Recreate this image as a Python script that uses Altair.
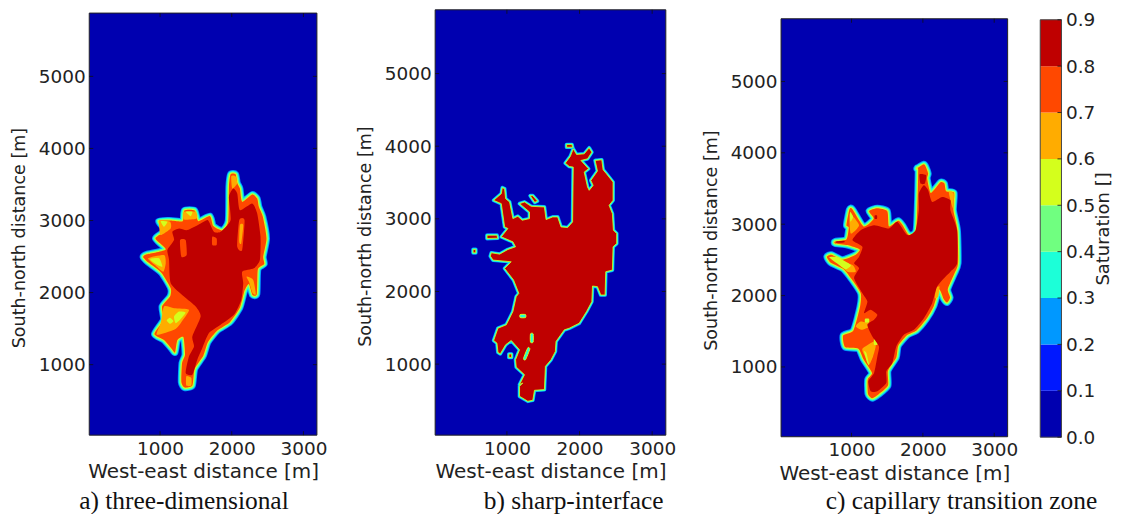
import altair as alt
import pandas as pd

# ---- saturation colour levels ----
LEVELS = [0.0, 0.1, 0.2, 0.3, 0.4, 0.5, 0.6, 0.7, 0.8, 0.9]
COLORS = ["#0000b0", "#0018ff", "#0098ff", "#1cffd8", "#70ff80", "#d4ff1c", "#ffac00", "#ff4800", "#bf0000"]
BG, B1, B2, B3, B4, B5, B6, B7, B8 = COLORS

X_TICKS = [1000, 2000, 3000]
Y_TICKS = [1000, 2000, 3000, 4000, 5000]
X_DOMAIN = [12, 3188]
Y_DOMAIN = [22, 5878]

# ---- outlines, in trace units (1 unit = about 4.6 m) ----
A_OUT = [(330,42),(345,42),(350,68),(358,85),(365,125),(395,103),(410,115),(415,140),(427,170),(438,235),(428,290),(431,312),(412,328),(409,402),(396,405),(385,372),(372,392),(358,443),(328,487),(290,512),(262,547),(248,588),(222,628),(215,678),(192,684),(182,668),(184,610),(193,585),(188,532),(170,541),(163,578),(152,566),(130,541),(101,523),(128,480),(124,440),(148,410),(150,385),(122,338),(82,307),(67,291),(78,283),(135,268),(104,235),(133,212),(114,183),(150,181),(186,183),(191,151),(222,151),(233,183),(268,168),(278,198),(305,211),(323,183),(325,80)]
A_CORE = [(338,85),(350,100),(358,150),(395,130),(410,160),(420,230),(418,300),(400,325),(365,335),(368,370),(362,420),(340,465),(300,495),(265,520),(245,565),(230,600),(215,645),(195,640),(205,590),(220,560),(215,530),(240,470),(225,440),(190,410),(150,370),(145,300),(140,270),(160,240),(155,215),(175,205),(200,210),(240,190),(262,180),(280,215),(300,215),(330,180),(325,110)]
A_HOLES = [
    [(178,240),(195,240),(198,285),(182,290)],
    [(356,180),(372,180),(365,270),(350,260)],
    [(275,230),(288,235),(288,255),(275,255)],
]
A_ORANGE = [
    [(82,295),(130,285),(135,310),(128,335),(108,320)],
    [(130,440),(160,445),(205,450),(180,490),(160,510),(108,525),(120,490)],
    [(116,180),(148,185),(150,205),(120,225),(116,205)],
    [(190,155),(225,155),(228,175),(190,178)],
    [(332,48),(345,48),(350,70),(335,85)],
    [(378,350),(398,360),(406,403),(396,400),(385,365)],
    [(197,678),(212,678),(212,655),(197,650)],
]
A_INNER = [(358,195),(368,195),(362,250),(356,245)]
A_YELLOW = [
    [(138,482),(148,474),(158,484),(148,492)],
    [(160,470),(175,455),(195,458),(178,480),(165,490)],
    [(88,297),(115,295),(125,320),(105,312)],
    [(120,183),(140,185),(130,200)],
    [(195,155),(215,155),(210,168)],
]

B_OUT = [(312,55),(322,72),(345,70),(360,52),(368,65),(355,85),(335,90),(358,115),(345,125),(355,170),(360,180),(372,165),(365,150),(385,122),(378,90),(398,88),(402,118),(412,130),(432,155),(432,210),(420,225),(430,250),(433,300),(443,310),(443,340),(432,350),(430,420),(410,425),(408,495),(395,495),(385,470),(370,468),(368,515),(352,545),(330,580),(300,595),(285,600),(260,635),(258,665),(245,690),(228,710),(225,780),(195,782),(190,812),(175,815),(150,800),(150,770),(160,760),(150,765),(165,735),(140,712),(138,690),(150,660),(125,632),(108,645),(92,672),(85,668),(82,640),(72,632),(85,595),(110,585),(130,545),(140,500),(148,490),(132,450),(105,415),(125,395),(70,390),(62,378),(65,368),(90,372),(115,358),(138,350),(130,335),(95,320),(115,295),(105,290),(95,220),(72,210),(95,190),(98,172),(105,175),(108,205),(120,215),(130,265),(145,258),(158,270),(180,265),(180,245),(150,220),(165,215),(185,228),(225,230),(230,268),(250,260),(265,260),(275,290),(295,292),(310,275),(312,110),(300,108),(288,98),(303,78)]
B_ISLANDS = [
    [(52,315),(82,315),(84,324),(52,325)],
    [(10,358),(18,358),(18,368),(10,368)],
    [(182,196),(190,196),(204,212),(196,216)],
    [(292,42),(308,42),(310,50),(292,50)],
    [(118,673),(126,673),(126,683),(118,683)],
]
B_HOLES = [
    [(152,554),(168,554),(168,563),(152,563)],
    [(183,612),(191,612),(191,637),(183,637)],
    [(175,654),(181,658),(168,690),(162,686)],
]

C_OUT = [(324,55),(345,42),(352,52),(358,70),(355,85),(366,128),(395,96),(407,100),(412,123),(436,128),(434,180),(446,240),(448,340),(436,373),(417,418),(424,443),(415,458),(405,448),(391,418),(375,468),(353,507),(323,542),(295,556),(268,588),(262,623),(237,663),(237,708),(208,735),(190,746),(177,733),(176,690),(189,670),(163,628),(148,597),(108,592),(102,557),(133,542),(153,470),(155,430),(128,388),(103,357),(65,338),(53,320),(67,314),(100,329),(140,314),(152,298),(115,285),(78,280),(78,274),(112,268),(119,232),(112,225),(121,178),(130,177),(164,229),(194,206),(180,183),(205,174),(235,183),(240,229),(268,212),(282,227),(299,254),(322,239),(328,62)]
C_CORE = [(330,130),(345,105),(358,120),(370,155),(400,140),(425,150),(425,180),(445,240),(445,340),(425,365),(410,380),(385,410),(370,460),(345,505),(315,540),(285,555),(262,590),(250,640),(232,665),(232,700),(205,725),(185,725),(178,695),(195,670),(205,620),(210,590),(190,560),(175,525),(195,510),(205,495),(185,480),(165,490),(175,455),(160,430),(135,385),(150,355),(135,340),(150,320),(160,290),(130,270),(155,240),(195,225),(240,235),(265,215),(295,255),(320,240),(330,180)]
C_CORE2 = [
    [(332,72),(352,75),(348,100),(335,100)],
    [(82,274),(105,272),(105,277),(82,278)],
    [(197,196),(204,196),(204,206),(197,206)],
]
C_ORANGE = [
    [(85,335),(130,345),(140,365),(115,365)],
    [(155,515),(190,525),(160,540),(140,530)],
    [(160,597),(195,575),(200,590),(192,620),(180,645),(168,620)],
    [(122,190),(150,225),(125,250)],
    [(420,126),(435,130),(433,175)],
    [(382,415),(392,410),(388,440),(378,445)],
]
C_YELLOW = [
    [(60,322),(85,322),(125,345),(110,358),(90,345)],
    [(168,507),(180,507),(180,518),(168,518)],
    [(165,605),(172,610),(180,645),(175,640)],
    [(195,568),(205,570),(205,585),(195,585)],
    [(123,185),(132,200),(124,215)],
]

CAPTIONS = ["a) three-dimensional", "b) sharp-interface", "c) capillary transition zone"]

FONT = dict(labelFont="DejaVu Sans", titleFont="DejaVu Sans", labelColor="#222", titleColor="#222",
            labelFontSize=18.5, titleFontWeight="normal")


def table(points, x0, y0, ux, uy):
    return pd.DataFrame({
        "x": [x0 + p[0] * ux for p in points],
        "y": [y0 - p[1] * uy for p in points],
        "i": list(range(len(points))),
    })


def panel(w, h, top, view_w, cal, rings, fills, caption, cap_x, cap_y, y_title_y):
    view_h = top + h
    sx = alt.Scale(domain=X_DOMAIN, nice=False, zero=False, range=[0, w])
    sy = alt.Scale(domain=Y_DOMAIN, nice=False, zero=False, range=[view_h, top])
    x_axis = alt.Axis(values=X_TICKS, ticks=False, domain=False, grid=False, format="d", titleFontSize=20,
                      title="West-east distance [m]", labelPadding=4, titlePadding=4, **FONT)
    y_axis = alt.Axis(values=Y_TICKS, ticks=False, domain=False, grid=False, format="d", titleFontSize=17.6,
                      title="South-north distance [m]", labelPadding=4, titlePadding=9.5, titleY=y_title_y, **FONT)

    def poly(pts, fill=None, stroke=None, sw=0, interp="cardinal-closed"):
        kw = dict(interpolate=interp, strokeJoin="round", clip=True, tension=0.4)
        if fill:
            kw["fill"] = fill
        kw["stroke"] = stroke if stroke else "transparent"
        kw["strokeWidth"] = sw
        return alt.Chart(table(pts, *cal)).mark_line(**kw).encode(
            x=alt.X("x:Q", scale=sx, axis=x_axis),
            y=alt.Y("y:Q", scale=sy, axis=y_axis),
            order="i:Q",
        )

    frame = alt.Chart(pd.DataFrame({
        "x": [X_DOMAIN[0]], "x2": [X_DOMAIN[1]], "y": [Y_DOMAIN[0]], "y2": [Y_DOMAIN[1]],
    })).mark_rect(fill=BG, stroke="#222", strokeWidth=1).encode(
        x=alt.X("x:Q", scale=sx, axis=x_axis), x2="x2:Q",
        y=alt.Y("y:Q", scale=sy, axis=y_axis), y2="y2:Q",
    )
    layers = [frame]
    for pts, stroke, sw, interp in rings:
        layers.append(poly(pts, stroke=stroke, sw=sw, interp=interp))
    for pts, fill, stroke, sw, interp in fills:
        layers.append(poly(pts, fill=fill, stroke=stroke, sw=sw, interp=interp))

    xt = alt.Chart(pd.DataFrame({"t": X_TICKS})).mark_rule(color="#111", strokeWidth=0.8)
    yt = alt.Chart(pd.DataFrame({"t": Y_TICKS})).mark_rule(color="#111", strokeWidth=0.8)
    X = alt.X("t:Q", scale=sx, axis=x_axis)
    Y = alt.Y("t:Q", scale=sy, axis=y_axis)
    layers += [
        xt.encode(x=X, y=alt.value(view_h), y2=alt.value(view_h - 4)),
        xt.encode(x=X, y=alt.value(top), y2=alt.value(top + 4)),
        yt.encode(y=Y, x=alt.value(0), x2=alt.value(4)),
        yt.encode(y=Y, x=alt.value(w - 4), x2=alt.value(w)),
        alt.Chart(pd.DataFrame({"c": [caption]})).mark_text(
            font="Liberation Serif", fontSize=25.5, color="#111", align="center", baseline="middle"
        ).encode(text="c:N", x=alt.value(cap_x), y=alt.value(cap_y)),
    ]
    return alt.layer(*layers).properties(width=view_w, height=view_h)


def soft_rings(outline):
    return [
        (outline, B2, 7, "cardinal-closed"),
        (outline, B3, 5.2, "cardinal-closed"),
        (outline, B4, 3.4, "cardinal-closed"),
        (outline, B5, 1.8, "cardinal-closed"),
    ]


def sharp(shape, fill):
    return [(shape, fill, B5, 0.8, "linear-closed")]


cal_a = (452.5, 3835, 4.64, 4.61)
cal_b = (489, 4215, 4.566, 4.572)
cal_c = (407, 4034, 4.657, 4.655)

fills_a = [(A_OUT, B7, None, 0, "cardinal-closed")]
fills_a += [(p, B6, None, 0, "cardinal-closed") for p in A_ORANGE]
fills_a += [(p, B5, None, 0, "cardinal-closed") for p in A_YELLOW]
fills_a += [(A_CORE, B8, None, 0, "cardinal-closed")]
fills_a += [(p, B7, None, 0, "cardinal-closed") for p in A_HOLES]
fills_a += [(A_INNER, B6, None, 0, "cardinal-closed")]

rings_b = []
for shp in [B_OUT] + B_ISLANDS:
    rings_b += [(shp, B2, 3.8, "linear-closed"), (shp, B3, 2.6, "linear-closed")]
fills_b = sharp(B_OUT, B8)
for shp in B_ISLANDS:
    fills_b += sharp(shp, B8)
for shp in B_HOLES:
    fills_b += [(shp, B3, B5, 1.0, "cardinal-closed")]

fills_c = [(C_OUT, B7, None, 0, "cardinal-closed")]
fills_c += [(p, B6, None, 0, "cardinal-closed") for p in C_ORANGE]
fills_c += [(p, B5, None, 0, "cardinal-closed") for p in C_YELLOW]
fills_c += [(C_CORE, B8, None, 0, "cardinal-closed")]
fills_c += [(p, B8, None, 0, "cardinal-closed") for p in C_CORE2]

GAP = 32
p1 = panel(228.4, 423.4, 3.3, 315, cal_a, soft_rings(A_OUT), fills_a, CAPTIONS[0], 95, 493, 228.5)
p2 = panel(231.4, 426.7, 0, 314.4, cal_b, rings_b, fills_b, CAPTIONS[1], 139, 493, 227)
p3 = panel(227.3, 419.3, 9, 227.3, cal_c, soft_rings(C_OUT), fills_c, CAPTIONS[2], 181, 493, 231)

BAR_TOP, BAR_H, BAR_W = 10, 418.7, 21.3
bar_df = pd.DataFrame({"lo": LEVELS[:-1], "hi": LEVELS[1:], "c": COLORS})
bs = alt.Scale(domain=[0, 0.9], nice=False, zero=False, range=[BAR_TOP + BAR_H, BAR_TOP])
bar_axis = alt.Axis(values=LEVELS, ticks=False, domain=False, grid=False, format=".1f", orient="right",
                    title="Saturation []", titleAngle=270, titleBaseline="top", titleFontSize=18,
                    labelPadding=4, titlePadding=0, **FONT)
bar = alt.layer(
    alt.Chart(bar_df).mark_rect().encode(
        y=alt.Y("lo:Q", scale=bs, axis=bar_axis), y2="hi:Q",
        color=alt.Color("c:N", scale=None),
    ),
    alt.Chart(pd.DataFrame({"lo": [0], "hi": [0.9]})).mark_rect(fill="transparent", stroke="#444", strokeWidth=1).encode(
        y=alt.Y("lo:Q", scale=bs, axis=bar_axis), y2="hi:Q",
    ),
    alt.Chart(pd.DataFrame({"t": LEVELS})).mark_rule(color="#111", strokeWidth=0.8).encode(
        y=alt.Y("t:Q", scale=bs, axis=bar_axis), x=alt.value(BAR_W - 4), x2=alt.value(BAR_W)),
).properties(width=BAR_W, height=BAR_TOP + BAR_H)

chart = alt.hconcat(p1, p2, p3, bar, spacing=GAP, bounds="flush").properties(
    padding=alt.Padding(left=2.5, top=0, right=0, bottom=0)
).configure(background="white").configure_view(strokeWidth=0)
chart.save("out.html", embed_options={"renderer": "svg", "actions": False})
